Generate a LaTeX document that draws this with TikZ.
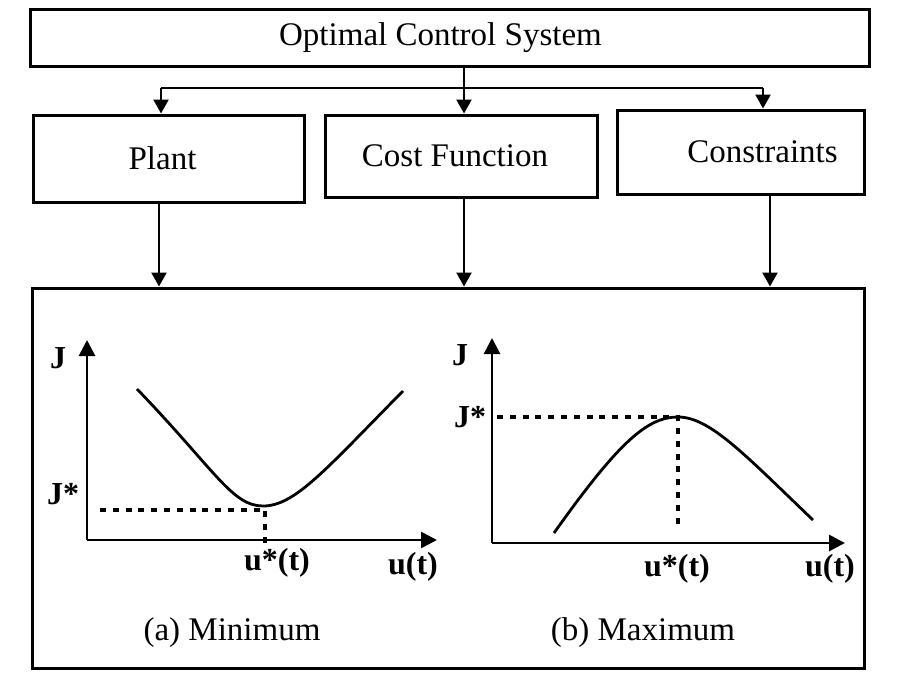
\documentclass[tikz,border=0pt]{standalone}
\usepackage{fontspec}
\setmainfont{Liberation Serif}
\usetikzlibrary{arrows.meta,positioning,calc}
\tikzset{blk/.style={draw,line width=1.5pt,inner sep=0pt},
 wire/.style={line width=1.3pt},arr/.style={wire,-{Triangle[length=7pt,width=7.5pt]}},
 axis/.style={line width=1.4pt,-{Triangle[length=8pt,width=8pt]}},
 curve/.style={line width=1.4pt},guide/.style={line width=1.6pt,dash pattern=on 3pt off 3.4pt},
 lab/.style={font=\fontsize{16}{19}\selectfont\bfseries},
 every node/.style={font=\fontsize{16.5}{20}\selectfont}}
\begin{document}
\begin{tikzpicture}[x=0.5pt,y=-0.5pt]
\useasboundingbox (0,0) rectangle (899,680);
% blocks
\node[blk,minimum width=419.5pt,minimum height=28.5pt] (ocs) at (449.5,37.5) {\hspace*{-9pt}Optimal Control System};
\node[blk,minimum width=135.5pt,minimum height=43.5pt] (plant) at (168.5,158.5) {\raisebox{-3pt}{\hspace*{-6pt}Plant}};
\node[blk,minimum width=136pt,minimum height=41pt] (cost) at (461,156) {\raisebox{-3pt}{\hspace*{-6pt}Cost Function}};
\node[blk,minimum width=123.5pt,minimum height=42pt] (cons) at (740.5,152) {\raisebox{-1pt}{\hspace*{22pt}Constraints}};
\node[blk,minimum width=416pt,minimum height=190pt] (res) at (448,478) {};
% connectors
\coordinate (jl) at (161,88);\coordinate (jm) at (464,88);\coordinate (jr) at (763,88);
\draw[arr] (jm |- ocs.south) -- (jm |- cost.north);
\draw[wire] (jl) -- (jr);
\draw[arr] (jl) -- (jl |- plant.north);\draw[arr] (jr) -- (jr |- cons.north);
\foreach \n/\x in {plant/159,cost/464,cons/770}{\draw[arr] (\n.south -| \x,0) -- (\x,0 |- res.north);}
% (a) minimum
\coordinate (oa) at (87,540);
\draw[axis] (oa) -- (87,340);\draw[axis] (oa) -- (437,540);
\draw[curve] (137,389) .. controls (215,470) and (232,506) .. (263,506) .. controls (295,506) and (325,470) .. (403,391);
\draw[guide] (100,510) -- (265,510) -- (265,547);
\node[lab] (ja) at (58,358) {J};\node[lab] (jsa) at (63,494) {J*};
\node[lab] (usa) at (277,563) {u*(t)};\node[lab] (ua) at (413,567) {u(t)};
\node (capa) at (232,633) {(a) Minimum};
% (b) maximum
\coordinate (ob) at (492,543);
\draw[axis] (ob) -- (492,338);\draw[axis] (ob) -- (845,543);
\draw[curve] (554,533) .. controls (620,440) and (648,417) .. (678,417) .. controls (710,417) and (745,455) .. (813,520);
\draw[guide] (497,417) -- (678,417) -- (678,530);
\node[lab] (jb) at (460,355) {J};\node[lab] (jsb) at (470,417) {J*};
\node[lab] (usb) at (677,569) {u*(t)};\node[lab] (ub) at (830,569) {u(t)};
\node (capb) at (643,633) {(b) Maximum};
\end{tikzpicture}
\end{document}
